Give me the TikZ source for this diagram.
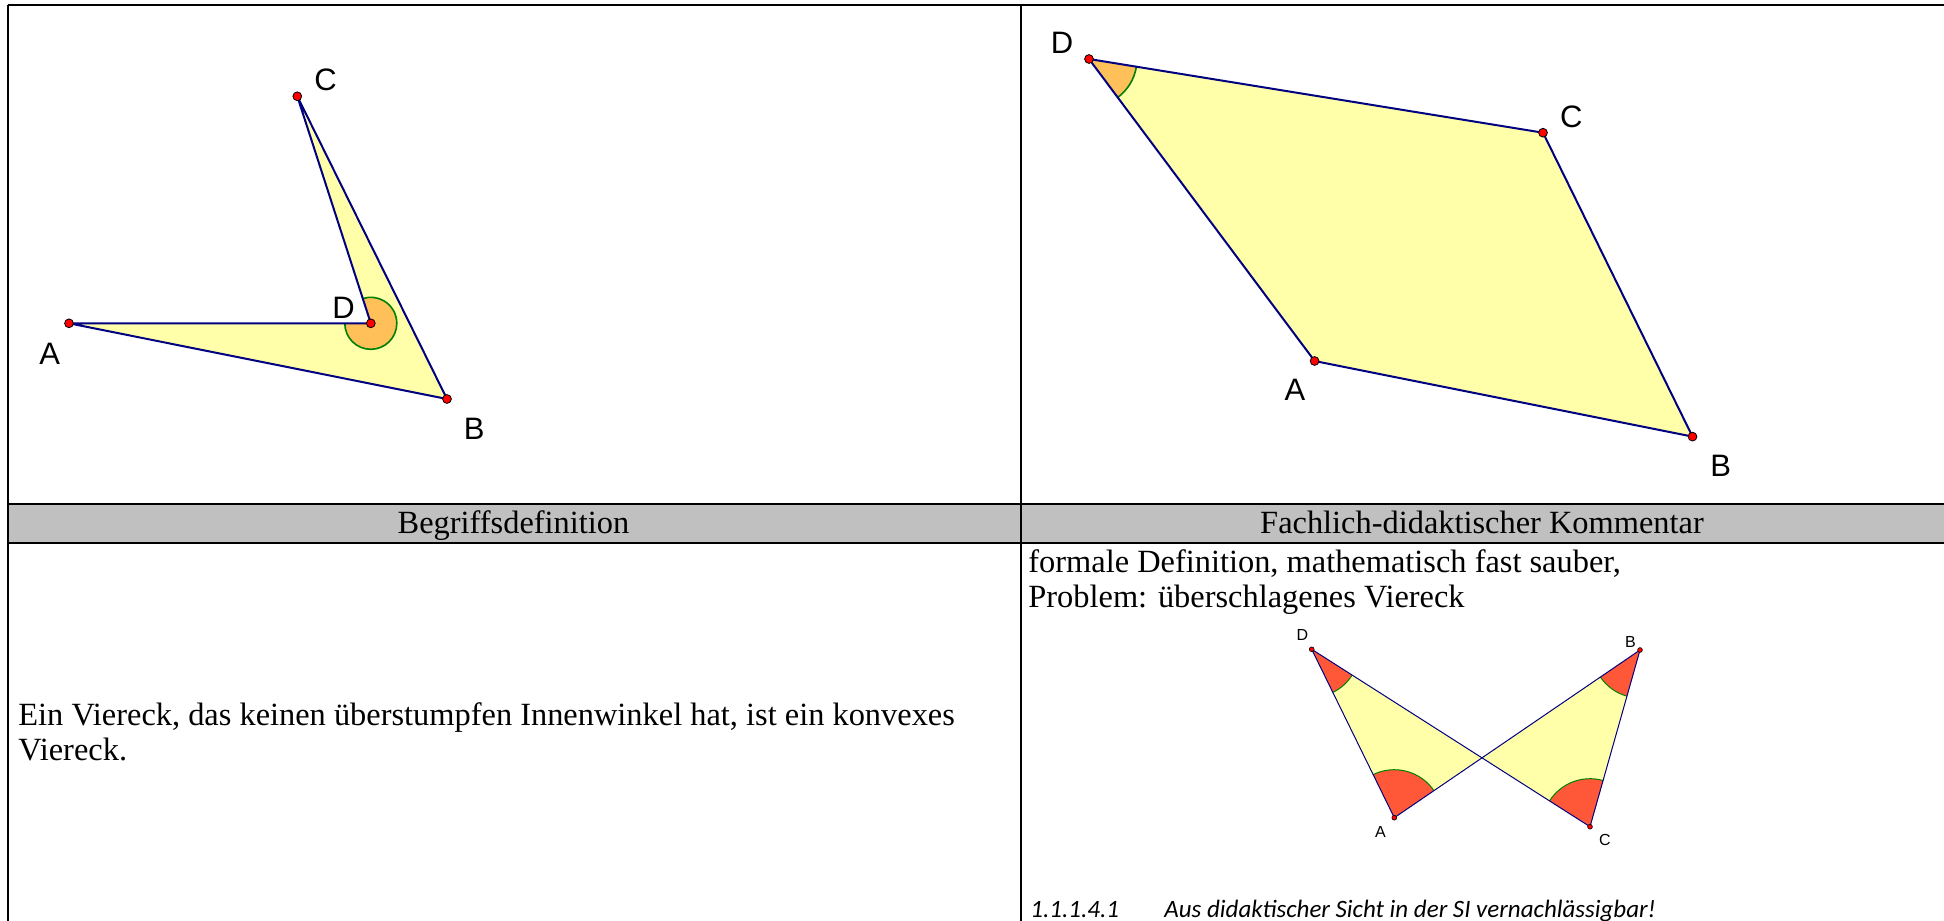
\documentclass[tikz,border=0pt]{standalone}
\usepackage{fontspec}
\setmainfont{Liberation Serif}
\setsansfont{Liberation Sans}
\newfontfamily\calibrifont{Carlito}
\usepackage{tikz}
\usetikzlibrary{angles,calc}

\definecolor{polyfill}{RGB}{255,255,170}
\definecolor{edgeblue}{RGB}{0,0,128}
\definecolor{angorange}{RGB}{255,191,89}
\definecolor{angred}{RGB}{255,88,56}
\definecolor{anggreen}{RGB}{0,128,0}
\definecolor{headgray}{RGB}{192,192,192}

\begin{document}
\begin{tikzpicture}[
  x=0.5pt,y=0.5pt,
  rule/.style={line width=1pt},
  edge/.style={draw=edgeblue,line width=1pt,line join=round},
  thinedge/.style={draw=edgeblue,line width=0.5pt,line join=round},
  dot/.style={fill=red,draw=black,line width=0.4pt},
  biglab/.style={font=\sffamily\fontsize{15.5}{18}\selectfont,inner sep=0pt},
  smalllab/.style={font=\sffamily\fontsize{8}{9.5}\selectfont,inner sep=0pt},
  body/.style={font=\fontsize{16.2}{17.5}\selectfont,inner sep=0pt},
  bigang/.style={draw=anggreen,line width=0.8pt},
  smallang/.style={fill=angred,draw=anggreen,line width=0.5pt,angle radius=24pt},
]
\useasboundingbox (0,0) rectangle (1944,-921);

% table
\fill[headgray] (7.5,-504) rectangle (1944,-543);
\draw[rule] (7.5,-5) -- (1944,-5);
\draw[rule] (7.5,-504) -- (1944,-504);
\draw[rule] (7.5,-543) -- (1944,-543);
\draw[rule] (7.5,-5) -- (7.5,-921);
\draw[rule] (1021,-5) -- (1021,-921);

% non-convex quadrilateral
\coordinate (lA) at (69,-323.3);
\coordinate (lB) at (447,-399);
\coordinate (lC) at (297.3,-96.3);
\coordinate (lD) at (370.8,-323.3);
\fill[polyfill] (lA) -- (lB) -- (lC) -- (lD) -- cycle;
\pic[bigang,fill=angorange,angle radius=13pt] {angle=lA--lD--lC};
\draw[edge] (lA) -- (lB) -- (lC) -- (lD) -- cycle;
\foreach \p in {lA,lB,lC,lD} \draw[dot] (\p) circle (2.2pt);
\node[biglab] (lAlab) at (49.8,-353.7) {A};
\node[biglab] (lBlab) at (474.3,-429) {B};
\node[biglab] (lClab) at (325.6,-80) {C};
\node[biglab] (lDlab) at (343.5,-308) {D};

% convex quadrilateral
\coordinate (rA) at (1314.6,-361);
\coordinate (rB) at (1692.5,-436.6);
\coordinate (rC) at (1543,-132.7);
\coordinate (rD) at (1089,-59);
\fill[polyfill] (rA) -- (rB) -- (rC) -- (rD) -- cycle;
\pic[bigang,fill=angorange,angle radius=24pt] {angle=rA--rD--rC};
\draw[edge] (rA) -- (rB) -- (rC) -- (rD) -- cycle;
\foreach \p in {rA,rB,rC,rD} \draw[dot] (\p) circle (2.2pt);
\node[biglab] (rAlab) at (1295,-390) {A};
\node[biglab] (rBlab) at (1720.6,-465.5) {B};
\node[biglab] (rClab) at (1571.3,-117) {C};
\node[biglab] (rDlab) at (1062,-43) {D};

% header
\node[body,anchor=base] (hleft) at (513.5,-533) {Begriffsdefinition};
\node[body,anchor=base] (hright) at (1482,-533) {Fachlich-didaktischer Kommentar};

% definition
\node[body,anchor=base west] (def1) at (18,-725) {Ein Viereck, das keinen überstumpfen Innenwinkel hat, ist ein konvexes};
\node[body,anchor=base west] (def2) at (18,-760) {Viereck.};

% comment
\node[body,anchor=base west] (com1) at (1028,-572) {formale Definition, mathematisch fast sauber,};
\node[body,anchor=base west] (com2) at (1028,-607) {Problem: überschlagenes Viereck};

% crossed quadrilateral
\coordinate (sA) at (1394.3,-817.7);
\coordinate (sB) at (1640,-650);
\coordinate (sC) at (1590,-826.7);
\coordinate (sD) at (1311.7,-649.3);
\fill[polyfill] (sA) -- (sB) -- (sC) -- (sD) -- cycle;
\pic[smallang] {angle=sA--sD--sC};
\pic[smallang] {angle=sB--sA--sD};
\pic[smallang] {angle=sA--sB--sC};
\pic[smallang] {angle=sB--sC--sD};
\draw[thinedge] (sA) -- (sB) -- (sC) -- (sD) -- cycle;
\foreach \p in {sA,sB,sC,sD} \draw[dot,line width=0.3pt] (\p) circle (1.2pt);
\node[smalllab] (sAlab) at (1380.5,-832) {A};
\node[smalllab] (sBlab) at (1630.5,-641.7) {B};
\node[smalllab] (sClab) at (1604.8,-839.7) {C};
\node[smalllab] (sDlab) at (1302.5,-635.3) {D};

% heading line
\node[inner sep=0pt,anchor=base west,font=\calibrifont\itshape\fontsize{12.5}{15}\selectfont] (note) at (1030,-917)
  {\makebox[67pt][l]{1.1.1.4.1}Aus didaktischer Sicht in der SI vernachlässigbar!};
\end{tikzpicture}
\end{document}
